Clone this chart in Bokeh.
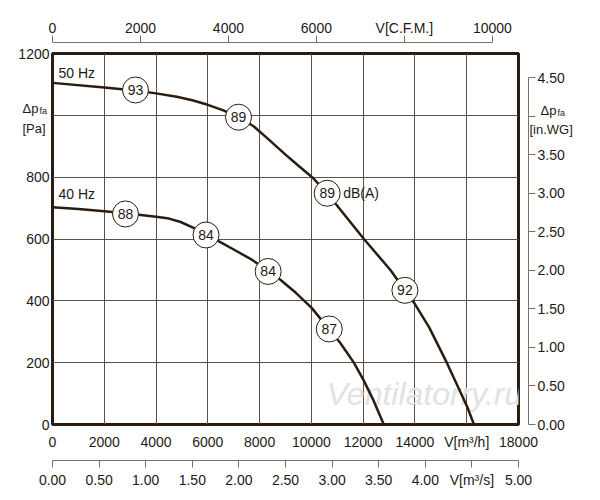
from bokeh.plotting import figure
from bokeh.models import Range1d, LinearAxis, FixedTicker, NumeralTickFormatter
from bokeh.core.properties import value
from bokeh.embed import file_html
from bokeh.resources import INLINE

# fan curves: flow in m3/h, pressure in Pa
flow_50 = [0, 2000, 3200, 4000, 4800, 5400, 6000, 6600, 7200, 7780, 8400, 9000,
           9500, 10030, 10610, 11300, 12030, 13060, 13612, 13964, 14544, 15230,
           15768, 16025, 16280]
dp_50 = [1105, 1090, 1080, 1071, 1060, 1049, 1034, 1016, 994, 964, 918, 873,
         837, 800, 748, 676, 600, 499, 434, 394, 315, 200, 103, 56, 0]
flow_40 = [0, 1000, 2000, 2820, 4000, 4500, 4950, 5450, 5950, 6500, 7000, 7700,
           8330, 8800, 9400, 10000, 10700, 11124, 11640, 12000, 12400, 12797]
dp_40 = [703, 697, 690, 683, 672, 666, 655, 636, 613, 589, 566, 533, 497, 468,
         426, 378, 307, 263, 200, 146, 78, 0]

# sound level marks dB(A)
db_flow = [3206, 7185, 10610, 13612, 2820, 5930, 8330, 10690]
db_dp = [1082, 994, 748, 434, 681, 613, 495, 309]
db_text = ["93", "89", "89", "92", "88", "84", "84", "87"]

flow_ticks = list(range(0, 18001, 2000))
dp_ticks = list(range(0, 1201, 200))
cfm_ticks = [0, 2000, 4000, 6000, 8000, 10000]
inwg_ticks = [0, 0.5, 1.0, 1.5, 2.0, 2.5, 3.0, 3.5, 4.0, 4.5]
ms_ticks = [0, 0.5, 1.0, 1.5, 2.0, 2.5, 3.0, 3.5, 4.0, 4.5, 5.0]

M3H_PER_CFM = 1.69901
PA_PER_INWG = 249.089

FONT = "Liberation Sans"
INK = "#1e1a16"
LINE = "#2a1c10"
GRID = "#5c5248"
AXIS = "#77716b"

p = figure(width=584, height=490, output_backend="svg", toolbar_location=None,
           x_range=Range1d(0, 18000), y_range=Range1d(0, 1200),
           min_border_left=52, min_border_right=66, min_border_top=53,
           min_border_bottom=62, background_fill_color="white",
           border_fill_color="white")
p.outline_line_color = LINE
p.outline_line_width = 3

p.extra_x_ranges = {"cfm": Range1d(0, 18000 / M3H_PER_CFM), "ms": Range1d(0, 5)}
p.extra_y_ranges = {"inwg": Range1d(0, 1200 / PA_PER_INWG)}

p.xgrid.ticker = FixedTicker(ticks=flow_ticks)
p.ygrid.ticker = FixedTicker(ticks=dp_ticks)
for g in (p.xgrid, p.ygrid):
    g.grid_line_color = GRID
    g.grid_line_width = 1


def style(ax, tick_out=0, standoff=3):
    ax.axis_line_color = AXIS
    ax.major_tick_line_color = AXIS
    ax.major_tick_in = 0
    ax.major_tick_out = tick_out
    ax.minor_tick_line_color = None
    ax.major_label_text_font = FONT
    ax.major_label_text_font_size = "14px"
    ax.major_label_text_color = INK
    ax.major_label_standoff = standoff


def spacer(rng, px, x=True):
    # empty axis used only to push the next axis away from the frame
    ax = LinearAxis(ticker=FixedTicker(ticks=[0]))
    if x:
        ax.x_range_name = rng
    else:
        ax.y_range_name = rng
    ax.axis_line_color = None
    ax.major_tick_line_color = None
    ax.minor_tick_line_color = None
    ax.major_tick_in = 0
    ax.major_tick_out = px
    ax.major_label_standoff = 0
    ax.major_label_text_font_size = "0px"
    ax.major_label_overrides = {0: ""}
    return ax


xa = p.xaxis[0]
style(xa, 0, 9)
xa.axis_line_color = None
xa.ticker = FixedTicker(ticks=flow_ticks)
xa.major_label_overrides = {16000: "V[m³/h]"}

ya = p.yaxis[0]
style(ya, 0, 3)
ya.axis_line_color = None
ya.ticker = FixedTicker(ticks=dp_ticks)
ya.major_label_overrides = {1000: ""}

p.add_layout(spacer("ms", 8), "below")
ms_ax = LinearAxis(x_range_name="ms", ticker=FixedTicker(ticks=ms_ticks),
                   formatter=NumeralTickFormatter(format="0.00"))
style(ms_ax, 7, 4)
ms_ax.major_label_overrides = {4.5: "V[m³/s]"}
p.add_layout(ms_ax, "below")

p.add_layout(spacer("cfm", 11), "above")
cfm_ax = LinearAxis(x_range_name="cfm", ticker=FixedTicker(ticks=cfm_ticks),
                    bounds=(0, 10000))
style(cfm_ax, 7, 0)
cfm_ax.major_label_overrides = {8000: "V[C.F.M.]"}
p.add_layout(cfm_ax, "above")

p.add_layout(spacer("inwg", 10, x=False), "right")
wg_ax = LinearAxis(y_range_name="inwg", ticker=FixedTicker(ticks=inwg_ticks),
                   formatter=NumeralTickFormatter(format="0.00"), bounds=(0, 4.5))
style(wg_ax, 7, 2)
wg_ax.major_label_overrides = {4.0: ""}
p.add_layout(wg_ax, "right")

# watermark
p.text(x=[14369], y=[100], text=["Ventilatorry.ru"], text_font=value(FONT),
       text_font_style="italic", text_font_size="32px", text_color="#e2e2e2",
       text_align="center", text_baseline="alphabetic")

p.line(flow_50, dp_50, line_color=LINE, line_width=2.5, line_join="round")
p.line(flow_40, dp_40, line_color=LINE, line_width=2.5, line_join="round")

p.scatter(db_flow, db_dp, marker="circle", size=26, fill_color="white",
          line_color=LINE, line_width=1)
p.text(db_flow, db_dp, text=db_text, text_font=value(FONT), text_font_size="14px",
       text_color=INK, text_align="center", text_baseline="middle")

p.text(x=[10610], y=[748], text=["dB(A)"], x_offset=16, text_font=value(FONT),
       text_font_size="14px", text_color=INK, text_baseline="middle")
p.text(x=[0, 0], y=[1137, 746], text=["50 Hz", "40 Hz"], x_offset=6,
       text_font=value(FONT), text_font_size="14px", text_color=INK,
       text_baseline="middle")

# pressure titles next to the 1000 Pa / 4.00 in.WG ticks (overlay: not clipped)
wg4 = 4.0 * PA_PER_INWG
titles = p.text(x=[0, 0, 18000, 18000], y=[1000, 1000, wg4, wg4],
                text=["Δp", "[Pa]", "Δp", "[in.WG]"],
                x_offset=[-30, -30, 22, 11], y_offset=[-7, 13, -6, 13],
                text_font=value(FONT), text_font_size="13px", text_color=INK,
                text_baseline="alphabetic")
titles.level = "overlay"
sub = p.text(x=[0, 18000], y=[1000, wg4], text=["fa", "fa"], x_offset=[-13, 39],
             y_offset=[-4, -3], text_font=value(FONT), text_font_size="9px",
             text_color=INK, text_baseline="alphabetic")
sub.level = "overlay"

open("out.html", "w").write(file_html(p, INLINE))
